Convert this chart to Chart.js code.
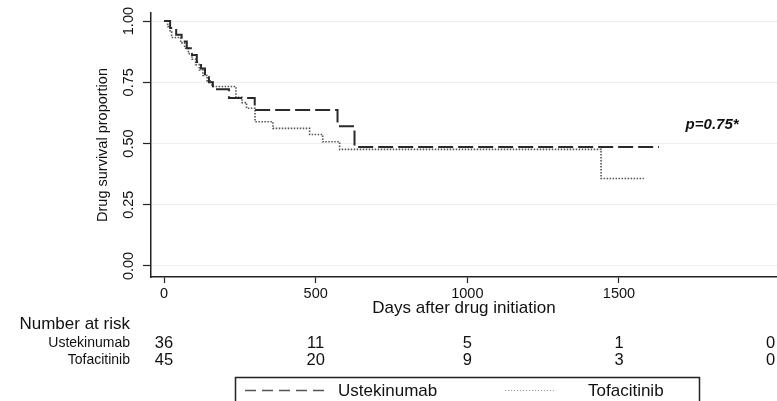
<!DOCTYPE html>
<html>
<head>
<meta charset="utf-8">
<script src="https://cdn.jsdelivr.net/npm/chart.js@4"></script>
<style>
  html, body { margin: 0; padding: 0; background: #fff; }
  #wrap { width: 777px; height: 401px; }
</style>
</head>
<body>
<div id="wrap"><canvas id="km" width="777" height="401"></canvas></div>
<script>
// Kaplan-Meier steps (days, survival proportion)
var ustDays = [0, 20, 40, 58, 75, 92, 108, 122, 135, 148, 161, 214, 299, 572, 628, 1632];
var ustSurv = [1, 0.972, 0.944, 0.917, 0.889, 0.861, 0.833, 0.806, 0.778, 0.750, 0.722, 0.686, 0.637, 0.571, 0.486, 0.486];

var tofDays = [0, 12, 20, 25, 55, 68, 80, 92, 104, 116, 128, 142, 158, 237, 257, 272, 300, 359, 480, 523, 579, 1441, 1582];
var tofSurv = [1, 0.978, 0.956, 0.933, 0.911, 0.889, 0.867, 0.844, 0.822, 0.800, 0.778, 0.756, 0.733, 0.689, 0.667, 0.644, 0.589, 0.562, 0.537, 0.507, 0.476, 0.357, 0.357];

var xTicks = [0, 500, 1000, 1500];
var yTicks = [0, 0.25, 0.5, 0.75, 1];

// number at risk table
var riskTimes = [0, 500, 1000, 1500, 2000];
var ustRisk = [36, 11, 5, 1, 0];
var tofRisk = [45, 20, 9, 3, 0];

var groupNames = ['Ustekinumab', 'Tofacitinib'];
var pLabel = 'p=0.75*';
var pPos = [1807, 0.576];

var FONT = '"Liberation Sans", Arial, Helvetica, sans-serif';

function toPoints(days, surv) {
    return days.map(function (d, i) { return { x: d, y: surv[i] }; });
}

var kmExtras = {
    id: 'kmExtras',
    afterDraw: function (chart) {
        var ctx = chart.ctx;
        var xs = chart.scales.x, ys = chart.scales.y;
        var left = chart.chartArea.left;
        ctx.save();
        ctx.fillStyle = '#111';

        // y tick labels, turned like the original
        ctx.font = '14.5px ' + FONT;
        ctx.textAlign = 'center';
        ctx.textBaseline = 'middle';
        yTicks.forEach(function (v) {
            ctx.save();
            ctx.translate(left - 22, ys.getPixelForValue(v));
            ctx.rotate(-Math.PI / 2);
            ctx.fillText(v.toFixed(2), 0, 0);
            ctx.restore();
        });

        // p value
        ctx.font = 'italic bold 15px ' + FONT;
        ctx.fillText(pLabel, xs.getPixelForValue(pPos[0]), ys.getPixelForValue(pPos[1]));

        // number at risk
        ctx.textAlign = 'right';
        ctx.font = '17px ' + FONT;
        ctx.fillText('Number at risk', 130, 324);
        ctx.font = '14px ' + FONT;
        ctx.fillText(groupNames[0], 130, 343);
        ctx.fillText(groupNames[1], 130, 360);
        ctx.textAlign = 'center';
        ctx.font = '16.5px ' + FONT;
        riskTimes.forEach(function (t, i) {
            var px = xs.getPixelForValue(t);
            ctx.fillText(String(ustRisk[i]), px, 343);
            ctx.fillText(String(tofRisk[i]), px, 360);
        });

        // legend box
        ctx.strokeStyle = '#222';
        ctx.lineWidth = 1.5;
        ctx.strokeRect(235.5, 377.5, 464, 40);
        ctx.lineWidth = 1.5;
        ctx.strokeStyle = '#555';
        ctx.setLineDash([11, 6]);
        ctx.beginPath();
        ctx.moveTo(245, 390.5);
        ctx.lineTo(326, 390.5);
        ctx.stroke();
        ctx.strokeStyle = '#999';
        ctx.lineWidth = 1.2;
        ctx.setLineDash([1.2, 1.8]);
        ctx.beginPath();
        ctx.moveTo(505, 390.5);
        ctx.lineTo(554, 390.5);
        ctx.stroke();
        ctx.setLineDash([]);
        ctx.textAlign = 'left';
        ctx.font = '17px ' + FONT;
        ctx.fillText(groupNames[0], 338, 391);
        ctx.fillText(groupNames[1], 588, 391);

        ctx.restore();
    }
};

var chart = new Chart(document.getElementById('km'), {
    type: 'line',
    data: {
        datasets: [{
            label: groupNames[0],
            data: toPoints(ustDays, ustSurv),
            stepped: true,
            borderColor: '#2a2a2a',
            borderWidth: 2,
            borderDash: [15, 5],
            pointRadius: 0,
            fill: false
        }, {
            label: groupNames[1],
            data: toPoints(tofDays, tofSurv),
            stepped: true,
            borderColor: '#555',
            borderWidth: 1.6,
            borderDash: [1.5, 1.5],
            pointRadius: 0,
            fill: false
        }]
    },
    options: {
        responsive: false,
        devicePixelRatio: 1,
        animation: false,
        layout: { padding: { left: 0, right: 0, top: 13, bottom: 82 } },
        plugins: {
            legend: { display: false },
            tooltip: { enabled: false }
        },
        scales: {
            x: {
                type: 'linear',
                min: -43,
                max: 2021,
                afterBuildTicks: function (s) { s.ticks = xTicks.map(function (v) { return { value: v }; }); },
                afterFit: function (s) { s.height = 42; },
                grid: { drawOnChartArea: false, drawTicks: true, tickLength: 6, tickColor: '#222', tickWidth: 1.2 },
                border: { color: '#222', width: 1.5 },
                ticks: {
                    color: '#111',
                    font: { family: FONT, size: 14.5 },
                    padding: 2,
                    maxRotation: 0,
                    callback: function (v) { return String(v); }
                },
                title: {
                    display: true,
                    text: 'Days after drug initiation',
                    color: '#111',
                    font: { family: FONT, size: 17 },
                    padding: { top: 0, bottom: 0 }
                }
            },
            y: {
                type: 'linear',
                min: -0.045,
                max: 1.033,
                afterBuildTicks: function (s) { s.ticks = yTicks.map(function (v) { return { value: v }; }); },
                afterFit: function (s) { s.width = 151; },
                grid: { color: '#eeeeee', lineWidth: 1, drawTicks: true, tickLength: 8, tickColor: '#222', tickWidth: 1.2 },
                border: { color: '#222', width: 1.5 },
                ticks: { display: false },
                title: {
                    display: true,
                    text: 'Drug survival proportion',
                    color: '#111',
                    font: { family: FONT, size: 14.5 },
                    padding: { top: 94, bottom: 0 }
                }
            }
        }
    },
    plugins: [kmExtras]
});
</script>
</body>
</html>
